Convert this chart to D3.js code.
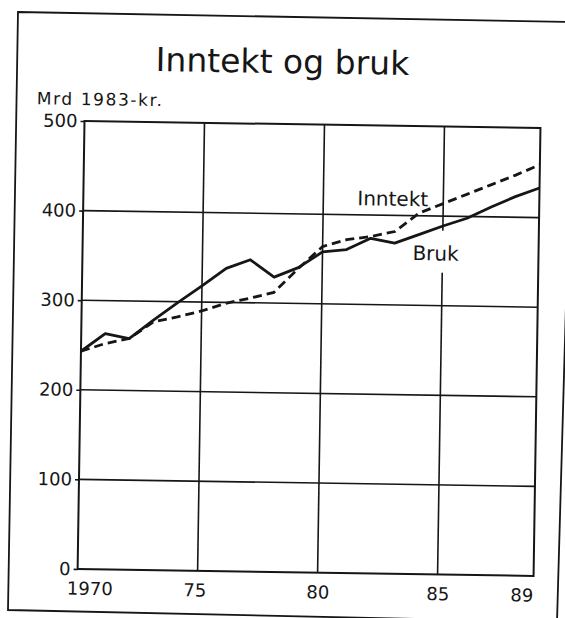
<!DOCTYPE html>
<html>
<head>
<meta charset="utf-8">
<script src="https://cdnjs.cloudflare.com/ajax/libs/d3/7.8.5/d3.min.js"></script>
<style>
  html, body { margin: 0; padding: 0; background: #fff; }
  svg { display: block; font-family: "DejaVu Sans", sans-serif; }
</style>
</head>
<body>
<svg id="chart" width="565" height="618"></svg>
<script>
// values (milliarder 1983-kroner)
const years   = [1970, 1971, 1972, 1973, 1974, 1975, 1976, 1977, 1978, 1979,
                 1980, 1981, 1982, 1983, 1984, 1985, 1986, 1987, 1988, 1989];
const bruk    = [243, 263, 258, 279, 299, 318, 338, 348, 329, 340,
                 358, 361, 374, 369, 379, 389, 398, 411, 423, 433];
const inntekt = [243, 252, 258, 277, 283, 290, 299, 305, 312, 339,
                 364, 372, 376, 382, 403, 414, 425, 436, 447, 459];

const yTicks      = [0, 100, 200, 300, 400, 500];
const xTicks      = [1970, 1975, 1980, 1985, 1989];
const xTickLabels = ["1970", "75", "80", "85", "89"];
const xGrid       = [1975, 1980, 1985];
const yGrid       = [100, 200, 300, 400];

const ink = "#161616";
const width = 456, height = 448;

const svg = d3.select("#chart");
svg.append("rect").attr("width", 565).attr("height", 618).attr("fill", "#fff");

// outer frame of the scanned figure (slightly skewed)
svg.append("path")
    .attr("d", "M18,12 L574,22 L557,622 L8,610 Z")
    .attr("fill", "none")
    .attr("stroke", ink)
    .attr("stroke-width", 1.8);

// the scan is turned a little, so the whole chart is drawn in a rotated group
const g = svg.append("g")
    .attr("transform", "translate(84.5,121) rotate(0.88)");

const x = d3.scaleLinear().domain([1970, 1989]).range([0, width]);
const y = d3.scaleLinear().domain([0, 500]).range([height, 0]);

// title and unit
g.append("text")
    .attr("x", 197).attr("y", -51)
    .attr("text-anchor", "middle")
    .attr("font-size", 33)
    .attr("fill", ink)
    .text("Inntekt og bruk");

g.append("text")
    .attr("x", -48).attr("y", -16)
    .attr("font-size", 17)
    .attr("letter-spacing", 1.6)
    .attr("fill", ink)
    .text("Mrd 1983-kr.");

// grid
g.selectAll(".vgrid")
    .data(xGrid)
    .enter().append("line")
    .attr("x1", d => x(d)).attr("x2", d => x(d))
    .attr("y1", 0).attr("y2", height)
    .attr("stroke", ink).attr("stroke-width", 1.6);

g.selectAll(".hgrid")
    .data(yGrid)
    .enter().append("line")
    .attr("x1", 0).attr("x2", width)
    .attr("y1", d => y(d)).attr("y2", d => y(d))
    .attr("stroke", ink).attr("stroke-width", 1.6);

// white patch behind the "Bruk" label breaks the 1985 grid line
g.append("rect")
    .attr("x", 326).attr("y", y(386) + 2)
    .attr("width", 58).attr("height", 42)
    .attr("fill", "#fff");

// axes
const yAxis = g.append("g")
    .call(d3.axisLeft(y).tickValues(yTicks).tickSize(4).tickPadding(3));
const xAxis = g.append("g")
    .attr("transform", "translate(0," + height + ")")
    .call(d3.axisBottom(x).tickValues(xTicks).tickSize(0).tickPadding(13)
        .tickFormat((d, i) => xTickLabels[i]));

[yAxis, xAxis].forEach(a => {
    a.select(".domain").remove();
    a.attr("font-family", null);
    a.selectAll("text").attr("font-size", 18).attr("fill", ink);
    a.selectAll("line").attr("stroke", ink).attr("stroke-width", 1.6);
});
xAxis.selectAll("text").attr("dx", (d, i) => i === 0 ? 12 : (i === xTicks.length - 1 ? -12 : (i === 1 ? -3 : 0)));

// plot frame
g.append("rect")
    .attr("x", 0).attr("y", 0)
    .attr("width", width).attr("height", height)
    .attr("fill", "none")
    .attr("stroke", ink).attr("stroke-width", 2);

// series
const line = d3.line()
    .x((d, i) => x(years[i]))
    .y(d => y(d));

g.append("path")
    .datum(inntekt)
    .attr("d", line)
    .attr("fill", "none")
    .attr("stroke", ink)
    .attr("stroke-width", 2.8)
    .attr("stroke-dasharray", "9,5");

g.append("path")
    .datum(bruk)
    .attr("d", line)
    .attr("fill", "none")
    .attr("stroke", ink)
    .attr("stroke-width", 2.8)
    .attr("stroke-linejoin", "round");

// series labels
g.append("text")
    .attr("x", 274).attr("y", 80)
    .attr("font-size", 20)
    .attr("fill", ink)
    .text("Inntekt");

g.append("text")
    .attr("x", 330).attr("y", 134)
    .attr("font-size", 20)
    .attr("fill", ink)
    .text("Bruk");
</script>
</body>
</html>
